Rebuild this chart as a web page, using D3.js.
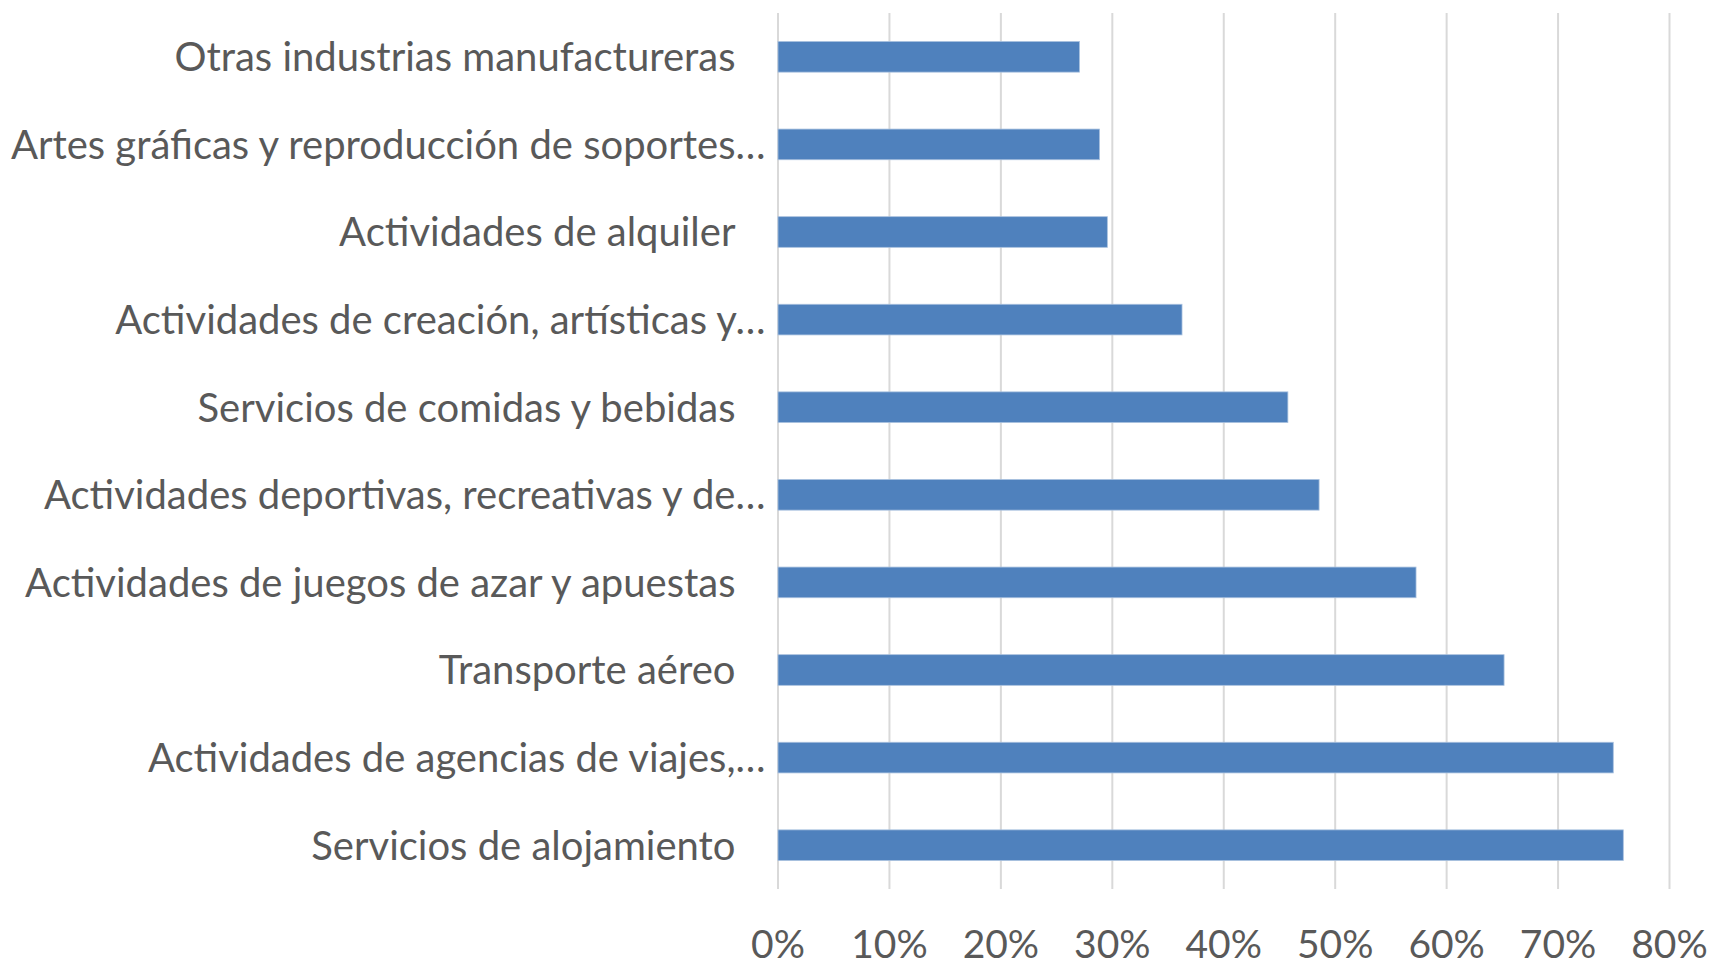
<!DOCTYPE html>
<html>
<head>
<meta charset="utf-8">
<script src="https://cdn.jsdelivr.net/npm/d3@7"></script>
<style>
  html, body { margin: 0; padding: 0; background: #fff; }
  svg { display: block; }
  text { font-family: Lato, "Open Sans", sans-serif; fill: #595959; }
</style>
</head>
<body>
<svg id="chart" width="1716" height="966"></svg>
<script>
// sectors, top to bottom as drawn
const categories = [
  "Otras industrias manufactureras",
  "Artes gráficas y reproducción de soportes…",
  "Actividades de alquiler",
  "Actividades de creación, artísticas y…",
  "Servicios de comidas y bebidas",
  "Actividades deportivas, recreativas y de…",
  "Actividades de juegos de azar y apuestas",
  "Transporte aéreo",
  "Actividades de agencias de viajes,…",
  "Servicios de alojamiento"
];
const values = [0.271, 0.289, 0.296, 0.363, 0.458, 0.486, 0.573, 0.652, 0.750, 0.759];
const xTicks = [0, 0.1, 0.2, 0.3, 0.4, 0.5, 0.6, 0.7, 0.8];

const svg = d3.select("#chart");
const plotLeft = 777.5, plotRight = 1669, plotTop = 13, plotBottom = 889;
const fontSize = 40;

const x = d3.scaleLinear().domain([0, 0.8]).range([plotLeft, plotRight]);
const y = d3.scaleBand().domain(categories).range([plotTop, plotBottom])
  .paddingInner(0.65).paddingOuter(0.325);

// gridlines + tick labels
const xAxis = svg.append("g")
  .attr("transform", `translate(0,${plotBottom})`)
  .call(d3.axisBottom(x).tickValues(xTicks).tickFormat(d3.format(".0%"))
    .tickSizeInner(-(plotBottom - plotTop)).tickSizeOuter(0));
xAxis.select(".domain").remove();
xAxis.selectAll(".tick line").attr("stroke", "#d9d9d9").attr("stroke-width", 2);
xAxis.selectAll(".tick text")
  .attr("y", 69).attr("dy", 0)
  .style("font-size", "39px");

// bars
svg.append("g")
  .selectAll("rect")
  .data(values)
  .join("rect")
  .attr("x", x(0) + 0.5)
  .attr("y", (d, i) => y(categories[i]))
  .attr("width", d => x(d) - x(0) - 0.5)
  .attr("height", y.bandwidth())
  .attr("fill", "#4f81bd")
  .attr("stroke", "#a9c1df")
  .attr("stroke-width", 0.8);

// category labels (truncated ones sit closer to the axis)
const yAxis = svg.append("g")
  .attr("transform", `translate(${plotLeft},0)`)
  .call(d3.axisLeft(y).tickSize(0));
yAxis.select(".domain").remove();
yAxis.selectAll(".tick text")
  .attr("x", d => d.endsWith("…") ? -12 : -42)
  .attr("dy", "0.36em")
  .style("font-size", fontSize + "px");
</script>
</body>
</html>
